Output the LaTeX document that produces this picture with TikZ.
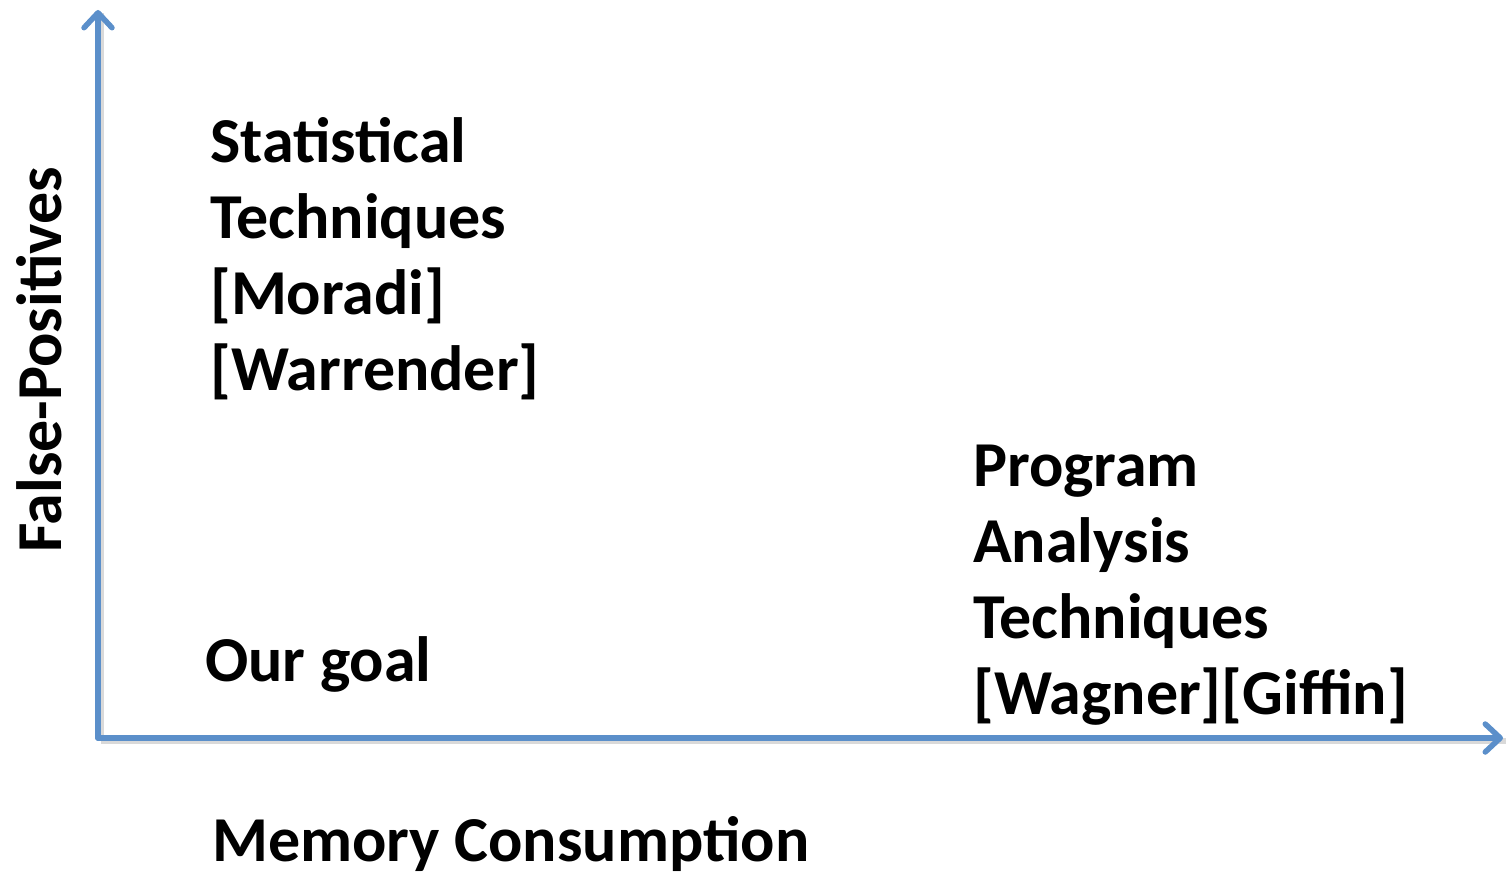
\documentclass[tikz,border=0pt]{standalone}
\usepackage{fontspec}
\setmainfont{Carlito}
\usetikzlibrary{arrows.meta}
\definecolor{axisblue}{HTML}{5B8FCA}
\tikzset{
  axis/.style={draw=axisblue, line width=5.5pt, line cap=round,
    -{Straight Barb[length=15pt,width=28pt,round]}},
  axshadow/.style={draw=black, opacity=0.15, line width=5.5pt},
  lbl/.style={inner sep=0pt, anchor=base west, align=left,
    font=\bfseries\fontsize{64}{76}\selectfont}
}
\begin{document}
\begin{tikzpicture}[x=1pt,y=-1pt]
\useasboundingbox (0,0) rectangle (1508,872);
\coordinate (o) at (98,738);
\coordinate (ytip) at (98,10);
\coordinate (xtip) at (1503,738);
\draw[axshadow] ([shift={(3,3)}]o) -- ([shift={(3,3)}]ytip);
\draw[axshadow] ([shift={(3,3)}]o) -- ([shift={(3,3)}]xtip);
\draw[axis] (o) -- (ytip);
\draw[axis] (o) -- (xtip);
\node[lbl] (stat) at (210,390) {Statistical\\Techniques\\{[}Moradi{]}\\{[}Warrender{]}};
\node[lbl] (prog) at (973,714) {Program\\Analysis\\Techniques\\{[}Wagner{]}{[}Giffin{]}};
\node[lbl] (goal) at (205,681) {Our goal};
\node[lbl] (xlab) at (212,861) {Memory Consumption};
\node[lbl, rotate=90] (ylab) at (61,553) {False-Positives};
\end{tikzpicture}
\end{document}
